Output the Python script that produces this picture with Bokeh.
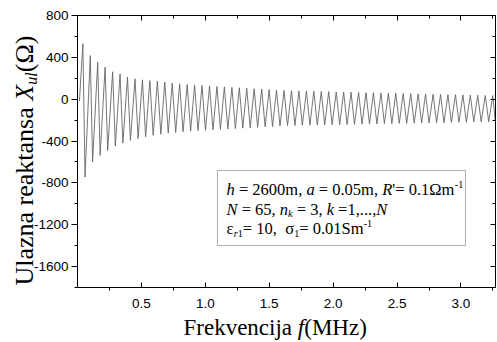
import math
from bokeh.plotting import figure
from bokeh.models import (Range1d, LinearAxis, FixedTicker, Label, BoxAnnotation,
                          CustomJSTickFormatter)
from bokeh.embed import file_html
from bokeh.resources import INLINE

# ---------------- data ----------------
start_f = 0.015
start_x = -20.0

peak_f = [0.042, 0.100, 0.158, 0.216, 0.275, 0.333, 0.391, 0.450, 0.508, 0.566,
          0.625, 0.683, 0.741, 0.799, 0.858, 0.916, 0.974, 1.033, 1.091, 1.149,
          1.208, 1.266, 1.324, 1.382, 1.441, 1.499, 1.557, 1.616, 1.674, 1.732,
          1.791, 1.849, 1.907, 1.965, 2.024, 2.082, 2.140, 2.199, 2.257, 2.315,
          2.374, 2.432, 2.490, 2.548, 2.607, 2.665, 2.723, 2.782, 2.840, 2.898,
          2.957, 3.015, 3.073, 3.131, 3.190, 3.248]
peak_x = [530, 417, 353, 306, 262, 242, 210, 195, 185, 178,
          172, 163, 153, 147, 140, 135, 131, 127, 122, 118,
          113, 109, 104, 100, 96, 92, 87, 83, 81, 79,
          77, 76, 74, 72, 70, 69, 67, 65, 63, 62,
          60, 58, 57, 55, 53, 51, 50, 48, 46, 44,
          43, 41, 39, 38, 36, 35]
trough_f = [0.059, 0.118, 0.177, 0.236, 0.296, 0.355, 0.414, 0.474, 0.533, 0.592,
            0.652, 0.710, 0.768, 0.826, 0.885, 0.943, 1.001, 1.060, 1.118, 1.176,
            1.235, 1.293, 1.351, 1.409, 1.468, 1.526, 1.584, 1.643, 1.701, 1.759,
            1.818, 1.876, 1.934, 1.992, 2.051, 2.109, 2.167, 2.226, 2.284, 2.342,
            2.401, 2.459, 2.517, 2.575, 2.634, 2.692, 2.750, 2.809, 2.867, 2.925,
            2.984, 3.042, 3.100, 3.158, 3.217, 3.268]
trough_x = [-745, -601, -537, -490, -448, -420, -394, -375, -360, -345,
            -335, -325, -318, -311, -305, -300, -297, -293, -289, -285,
            -281, -277, -273, -269, -265, -261, -256, -252, -251, -250,
            -248, -247, -246, -245, -243, -242, -240, -239, -238, -236,
            -235, -234, -232, -231, -229, -228, -227, -225, -224, -222,
            -221, -220, -218, -217, -216, -200]

x_lo, x_hi = 0.0, 3.27
y_lo, y_hi = -1800, 800
x_major_ticks = [0.5, 1.0, 1.5, 2.0, 2.5, 3.0]
x_minor_ticks = [0.25, 0.75, 1.25, 1.75, 2.25, 2.75, 3.25]
y_major_ticks = [-1600, -1200, -800, -400, 0, 400, 800]
y_minor_ticks = [-1800, -1400, -1000, -600, -200, 200, 600]

x_title = [("Frekvencija ", False, "n"), ("f", True, "n"), ("(MHz)", False, "n")]
y_title = [("Ulazna reaktansa ", False, "n"), ("X", True, "n"), ("ul", True, "sub"),
           ("(Ω)", False, "n")]
box_lines = [
    [("h", True, "n"), (" = 2600m, ", False, "n"), ("a", True, "n"),
     (" = 0.05m, ", False, "n"), ("R", True, "n"), ("'= 0.1Ωm", False, "n"),
     ("-1", False, "sup")],
    [("N", True, "n"), (" = 65, ", False, "n"), ("n", True, "n"), ("k", True, "sub"),
     (" = 3, ", False, "n"), ("k", True, "n"), (" =1,...,", False, "n"), ("N", True, "n")],
    [("ε", False, "n"), ("r", True, "sub"), ("1", False, "sub"), ("= 10,  σ", False, "n"),
     ("1", False, "sub"), ("= 0.01Sm", False, "n"), ("-1", False, "sup")],
]

# ---------------- series ----------------
fs = [start_f]
xs = [start_x]
for pf, px, tf, tx in zip(peak_f, peak_x, trough_f, trough_x):
    fs += [pf, tf]
    xs += [px, tx]

# ---------------- layout: frame = whole canvas, axes at fixed locations ----------------
W, H = 497, 342
FL, FR, FT, FB = 77, 495, 15, 287          # pixel box of the plotting area
sx = (FR - FL) / (x_hi - x_lo)
sy = (FB - FT) / (y_hi - y_lo)
xr = Range1d(x_lo - FL / sx, x_hi + (W - FR) / sx)
yr = Range1d(y_lo - (H - FB) / sy, y_hi + FT / sy)

p = figure(width=W, height=H, x_range=xr, y_range=yr, output_backend="svg",
           toolbar_location=None, x_axis_location=None, y_axis_location=None,
           min_border=0)
p.xgrid.visible = False
p.ygrid.visible = False
p.outline_line_color = None
p.background_fill_color = "white"
p.border_fill_color = "white"

p.line(fs, xs, line_color="#666666", line_width=0.9)

TICK_FONT = "Liberation Sans"
xfmt = CustomJSTickFormatter(code="return tick.toFixed(1)")
yfmt = CustomJSTickFormatter(code="return String(Math.round(tick))")
empty = CustomJSTickFormatter(code="return ''")

bottom = LinearAxis(ticker=FixedTicker(ticks=x_major_ticks, minor_ticks=x_minor_ticks),
                    formatter=xfmt, fixed_location=y_lo, bounds=(x_lo, x_hi),
                    major_tick_in=5, major_tick_out=0, minor_tick_in=0, minor_tick_out=3,
                    major_label_standoff=8)
left = LinearAxis(ticker=FixedTicker(ticks=y_major_ticks, minor_ticks=y_minor_ticks),
                  formatter=yfmt, fixed_location=x_lo, bounds=(y_lo, y_hi),
                  major_tick_in=0, major_tick_out=6, minor_tick_in=0, minor_tick_out=3,
                  major_label_standoff=3)
for ax in (bottom, left):
    ax.major_label_text_font = TICK_FONT
    ax.major_label_text_font_size = "13.5px"
    ax.major_label_text_color = "black"

top = LinearAxis(ticker=FixedTicker(ticks=x_major_ticks, minor_ticks=x_minor_ticks),
                 formatter=empty, fixed_location=y_hi, bounds=(x_lo, x_hi))
right = LinearAxis(ticker=FixedTicker(ticks=y_major_ticks, minor_ticks=y_minor_ticks),
                   formatter=empty, fixed_location=x_hi, bounds=(y_lo, y_hi))
for ax in (top, right):
    ax.major_tick_in = 5
    ax.major_tick_out = 0
    ax.minor_tick_in = 3
    ax.minor_tick_out = 0
    ax.major_label_standoff = 0
    ax.major_label_text_font_size = "1px"
for ax in (bottom, left, top, right):
    ax.axis_line_color = "black"
    ax.major_tick_line_color = "black"
    ax.minor_tick_line_color = "black"
p.add_layout(bottom, "below")
p.add_layout(left, "left")
p.add_layout(top, "above")
p.add_layout(right, "right")

# ---------------- rich text helpers ----------------
REG = {' ': 250, "'": 180, '(': 333, ')': 333, ',': 250, '-': 333, '.': 250, '=': 564,
       'F': 556, 'M': 889, 'H': 722, 'U': 722, 'S': 556, 'Ω': 768, 'ε': 439, 'σ': 549,
       'a': 444, 'c': 444, 'e': 444, 'i': 278, 'j': 278, 'k': 500, 'l': 278, 'm': 778,
       'n': 500, 'r': 333, 's': 389, 't': 278, 'v': 500, 'z': 444}
ITA = {'h': 500, 'a': 500, 'R': 611, 'N': 667, 'n': 500, 'k': 444, 'r': 389, 'f': 278,
       'X': 611, 'u': 500, 'l': 278}


def text_width(s, italic, size):
    tbl = ITA if italic else REG
    return sum(tbl.get(c, 500) for c in s) / 1000.0 * size


SERIF = "Liberation Serif"
BASE_CORR = 0.21   # rendered baseline sits this many em below the anchor
NBSP = "\u00a0"


def rich(px0, py0, segs, size, vertical=False):
    """px0, py0: picture pixels (from top-left) of the visible baseline start."""
    pos = 0.0
    for text, italic, kind in segs:
        fsz = size * 0.62 if kind in ("sub", "sup") else size
        shift = -0.2 * size if kind == "sub" else (0.38 * size if kind == "sup" else 0.0)
        shift += BASE_CORR * fsz
        if vertical:
            x, y, ang = px0 - shift, (H - py0) + pos, math.pi / 2
        else:
            x, y, ang = px0 + pos, (H - py0) + shift, 0.0
        shown = text.replace(" ", NBSP)
        p.add_layout(Label(x=x, y=y, x_units="screen", y_units="screen", text=shown,
                           angle=ang, text_font=SERIF, text_font_size=f"{fsz:.1f}px",
                           text_font_style="italic" if italic else "normal",
                           text_align="left", text_baseline="alphabetic",
                           text_color="black"))
        pos += text_width(text, italic, fsz)


rich(183, 331.5, x_title, 23)
rich(29, 285, y_title, 26, vertical=True)

p.add_layout(BoxAnnotation(left=217, right=465, top=H - 170, bottom=H - 245,
                           left_units="screen", right_units="screen",
                           top_units="screen", bottom_units="screen",
                           fill_color=None, line_color="black", line_width=1))
for i, line in enumerate(box_lines):
    rich(226, 192.3 + 19.7 * i, line, 16.5)

open("out.html", "w").write(file_html(p, INLINE))
